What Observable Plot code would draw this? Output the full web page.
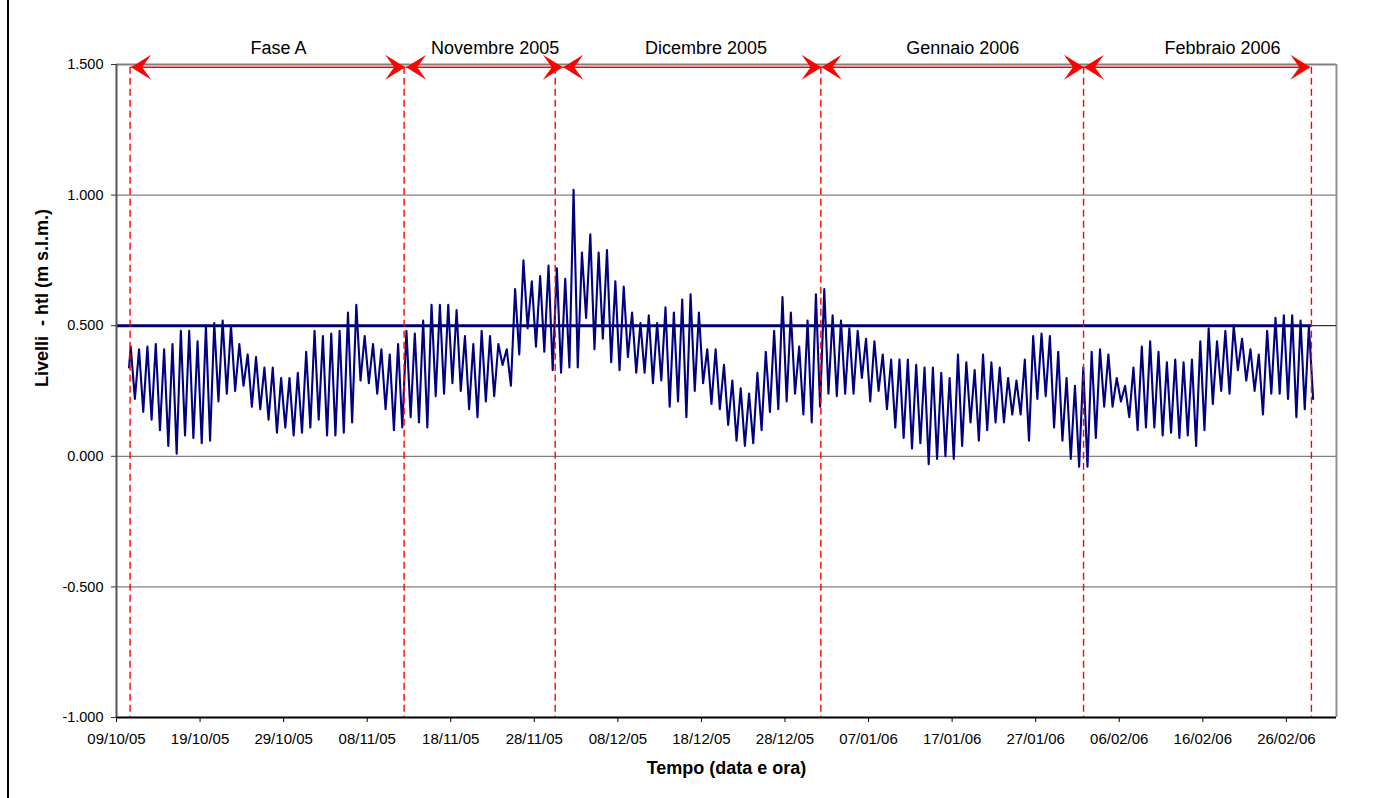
<!DOCTYPE html>
<html>
<head>
<meta charset="utf-8">
<script src="https://cdn.jsdelivr.net/npm/d3@7"></script>
<script src="https://cdn.jsdelivr.net/npm/@observablehq/plot@0.6"></script>
<style>
  html, body { margin: 0; padding: 0; background: #fff; }
  #chart { width: 1376px; height: 798px; }
  svg { font-family: "Liberation Sans", Arial, sans-serif; }
</style>
</head>
<body>
<div id="chart"></div>
<script>
// ---- Data ----
// Series: level (m s.l.m.), one high and one low per day, starting 10/10/05 12:00
const seriesStart = "2005-10-10T12:00:00Z";
const startValue = 0.34;
const dailyHigh = [
  0.42, 0.41, 0.42, 0.43, 0.41, 0.43, 0.48, 0.48, 0.44, 0.50, 0.51, 0.52, 0.50, 0.43, 0.39, 0.38, 0.34, 0.34, 0.30, 0.30, 0.32, 0.40, 0.48, 0.46,
  0.47, 0.48, 0.55, 0.58, 0.46, 0.43, 0.41, 0.39, 0.43, 0.48, 0.47, 0.52, 0.58, 0.58, 0.58, 0.56, 0.46, 0.43, 0.48, 0.46, 0.43, 0.41, 0.64, 0.75, 0.67,
  0.69, 0.73, 0.72, 0.68, 1.02, 0.78, 0.85, 0.78, 0.79, 0.67, 0.65, 0.55, 0.51, 0.54, 0.51, 0.57, 0.55, 0.60, 0.62, 0.55, 0.41, 0.41, 0.35, 0.29, 0.26,
  0.24, 0.32, 0.40, 0.48, 0.61, 0.55, 0.42, 0.52, 0.62, 0.64, 0.54, 0.52, 0.49, 0.48, 0.45, 0.44, 0.39, 0.37, 0.37, 0.37, 0.35, 0.34, 0.34, 0.32, 0.30,
  0.39, 0.36, 0.33, 0.39, 0.36, 0.34, 0.30, 0.29, 0.37, 0.46, 0.47, 0.46, 0.40, 0.30, 0.27, 0.34, 0.40, 0.41, 0.39, 0.30, 0.27, 0.34, 0.42, 0.44, 0.40,
  0.36, 0.37, 0.36, 0.37, 0.44, 0.49, 0.44, 0.48, 0.50, 0.45, 0.41, 0.39, 0.48, 0.53, 0.54, 0.54, 0.52, 0.50
];
const dailyLow = [
  0.22, 0.17, 0.14, 0.10, 0.04, 0.01, 0.08, 0.07, 0.05, 0.06, 0.21, 0.24, 0.25, 0.27, 0.19, 0.18, 0.14, 0.09, 0.11, 0.08, 0.09, 0.11, 0.14, 0.08,
  0.08, 0.09, 0.13, 0.29, 0.28, 0.24, 0.18, 0.10, 0.11, 0.15, 0.13, 0.11, 0.23, 0.24, 0.28, 0.25, 0.18, 0.15, 0.21, 0.23, 0.35, 0.27, 0.39, 0.49, 0.42,
  0.40, 0.33, 0.32, 0.34, 0.34, 0.53, 0.41, 0.45, 0.36, 0.33, 0.38, 0.32, 0.32, 0.28, 0.29, 0.19, 0.21, 0.15, 0.25, 0.28, 0.20, 0.18, 0.12, 0.06, 0.04,
  0.05, 0.10, 0.17, 0.18, 0.21, 0.24, 0.16, 0.13, 0.19, 0.24, 0.23, 0.24, 0.24, 0.30, 0.21, 0.25, 0.18, 0.11, 0.07, 0.03, 0.05, -0.03, -0.01, 0.00, -0.01,
  0.04, 0.13, 0.06, 0.10, 0.13, 0.13, 0.16, 0.16, 0.06, 0.22, 0.23, 0.11, 0.06, -0.01, -0.04, -0.04, 0.07, 0.19, 0.19, 0.21, 0.15, 0.10, 0.11, 0.11, 0.08,
  0.09, 0.07, 0.08, 0.04, 0.10, 0.20, 0.25, 0.24, 0.33, 0.29, 0.25, 0.16, 0.24, 0.24, 0.22, 0.15, 0.18, 0.22
];

// Reference level line (0.500 m) over the whole period
const refLevel = 0.5;
const refStart = "2005-10-09T00:00:00Z";
const refEnd = "2006-03-01T00:00:00Z";

// Period boundaries (red dashed lines)
const boundaryDates = [
  "2005-10-10T15:00:00Z", "2005-11-12T10:00:00Z", "2005-11-30T12:00:00Z",
  "2006-01-01T07:00:00Z", "2006-02-01T17:30:00Z", "2006-03-01T00:00:00Z"
];
// Period arrows and their labels
const periodLabels = ["Fase A", "Novembre 2005", "Dicembre 2005", "Gennaio 2006", "Febbraio 2006"];
const periodStart = ["2005-10-10T18:00:00Z", "2005-11-12T16:00:00Z", "2005-12-01T11:00:00Z", "2006-01-01T09:00:00Z", "2006-02-01T18:30:00Z"];
const periodEnd   = ["2005-11-12T13:00:00Z", "2005-12-01T10:00:00Z", "2006-01-01T09:00:00Z", "2006-02-01T18:30:00Z", "2006-02-28T21:00:00Z"];
const labelDates  = ["2005-10-28T09:00:00Z", "2005-11-23T07:30:00Z", "2005-12-18T13:00:00Z", "2006-01-18T06:30:00Z", "2006-02-18T08:30:00Z"];

// Axes
const xDomain = ["2005-10-09T00:00:00Z", "2006-03-04T00:00:00Z"];
const xTicks = ["2005-10-09", "2005-10-19", "2005-10-29", "2005-11-08", "2005-11-18", "2005-11-28", "2005-12-08",
                "2005-12-18", "2005-12-28", "2006-01-07", "2006-01-17", "2006-01-27", "2006-02-06", "2006-02-16", "2006-02-26"];
const yTicks = [-1.0, -0.5, 0.0, 0.5, 1.0, 1.5];
const yGrid = [-0.5, 0.0, 1.0];
const yLabel = "Livelli \u00A0- htl (m s.l.m.)";
const xLabel = "Tempo (data e ora)";

// ---- Build tables ----
const DAY = 864e5;
const t0 = new Date(seriesStart).getTime();
const series = [{date: new Date(t0), value: startValue}];
dailyHigh.forEach((h, i) => {
  series.push({date: new Date(t0 + (i + 0.2) * DAY), value: h});
  series.push({date: new Date(t0 + (i + 0.7) * DAY), value: dailyLow[i]});
});
const periods = periodLabels.map((label, i) => ({
  label, start: new Date(periodStart[i]), end: new Date(periodEnd[i]), mid: new Date(labelDates[i])
}));
const heads = periods.flatMap(p => [{x: p.start, rot: 180}, {x: p.end, rot: 0}]);
const arrowY = 1.489;

// Filled "stealth" arrow head, tip at the origin, pointing right
const stealth = {
  draw(ctx, size) {
    const s = Math.sqrt(size / Math.PI) / 10;
    ctx.moveTo(0, 0);
    ctx.lineTo(-20 * s, -12.5 * s);
    ctx.lineTo(-11 * s, 0);
    ctx.lineTo(-20 * s, 12.5 * s);
    ctx.closePath();
  }
};

const xMin = new Date(xDomain[0]), xMax = new Date(xDomain[1]);

const chart = Plot.plot({
  width: 1376,
  height: 798,
  marginLeft: 116,
  marginRight: 40,
  marginTop: 64,
  marginBottom: 81,
  style: {fontFamily: "'Liberation Sans', Arial, sans-serif", background: "#fff", color: "#000"},
  x: {type: "utc", domain: [xMin, xMax]},
  y: {domain: [-1, 1.5]},
  marks: [
    Plot.ruleY(yGrid, {stroke: "#808080", strokeWidth: 1.3}),
    Plot.ruleY([1.5], {stroke: "#808080", strokeWidth: 2}),
    Plot.ruleX([xMax], {y1: -1, y2: 1.5, stroke: "#909090", strokeWidth: 2}),
    Plot.ruleY([{y: refLevel, x1: new Date(refStart), x2: new Date(refEnd)}], {y: "y", x1: "x1", x2: "x2", stroke: "#000080", strokeWidth: 3}),
    Plot.ruleY([0.5], {stroke: "#000", strokeWidth: 1}),
    Plot.line(series, {x: "date", y: "value", stroke: "#000080", strokeWidth: 2.1, strokeLinejoin: "round"}),
    Plot.ruleX(boundaryDates.map(d => new Date(d)), {y1: arrowY, y2: -1, stroke: "#ff0000", strokeWidth: 1.4, strokeDasharray: "7,4"}),
    Plot.ruleY(periods, {y: arrowY, x1: "start", x2: "end", stroke: "#ff0000", strokeWidth: 1.5}),
    Plot.dot(heads, {x: "x", y: arrowY, rotate: "rot", symbol: stealth, r: 10, fill: "#ff0000", stroke: "none"}),
    Plot.text(periods, {x: "mid", y: 1.5, text: "label", dy: -16, fontSize: 18, fill: "#000"}),
    Plot.ruleX([xMin], {y1: -1, y2: 1.5, stroke: "#555", strokeWidth: 2}),
    Plot.ruleY([-1], {stroke: "#000", strokeWidth: 2}),
    Plot.axisY({ticks: yTicks, tickFormat: d => d.toFixed(3), tickSize: 5, tickPadding: 8, fontSize: 14.5, label: null, stroke: "#333"}),
    Plot.axisX({ticks: xTicks.map(d => new Date(d + "T00:00:00Z")), tickFormat: d3.utcFormat("%d/%m/%y"), tickSize: 5, tickPadding: 11, fontSize: 15, label: null, stroke: "#000"}),
    Plot.text([xLabel], {frameAnchor: "bottom", dy: 51, fontWeight: "bold", fontSize: 18, lineAnchor: "middle", fill: "#000"}),
    Plot.text([yLabel], {frameAnchor: "left", dx: -74, dy: -4, rotate: -90, fontWeight: "bold", fontSize: 18, lineAnchor: "middle", fill: "#000"})
  ]
});

// outer frame of the figure (left edge)
d3.select(chart).append("line")
  .attr("x1", 8).attr("x2", 8).attr("y1", 0).attr("y2", 798)
  .attr("stroke", "#000").attr("stroke-width", 2);

document.getElementById("chart").appendChild(chart);
</script>
</body>
</html>
